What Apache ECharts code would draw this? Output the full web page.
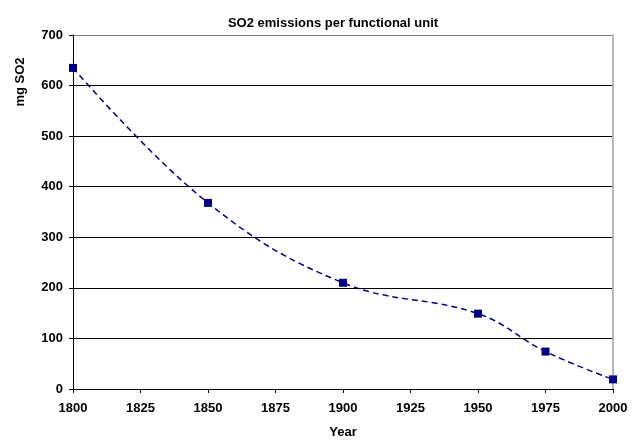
<!DOCTYPE html>
<html>
<head>
<meta charset="utf-8">
<script src="https://cdn.jsdelivr.net/npm/echarts@6/dist/echarts.min.js"></script>
<style>html,body{margin:0;padding:0;background:#fff}#c{width:637px;height:444px}</style>
</head>
<body>
<div id="c"></div>
<script>
var years = [1800, 1850, 1900, 1950, 1975, 2000];
var so2 = [635, 368, 210, 149, 74, 19];
var titleText = 'SO2 emissions per functional unit';
var xName = 'Year';
var yName = 'mg SO2';

var font = 'Liberation Sans, Arial, sans-serif';
var chart = echarts.init(document.getElementById('c'));
chart.setOption({
  animation: false,
  backgroundColor: '#fff',
  title: {
    text: titleText, left: 328, top: 12, textAlign: 'center',
    textStyle: {fontFamily: font, fontSize: 13, fontWeight: 'bold', color: '#000'}
  },
  grid: {left: 73, right: 24, top: 35, bottom: 51},
  graphic: [{
    type: 'text', x: 20, y: 82, rotation: Math.PI / 2,
    style: {text: yName, font: 'bold 13px ' + font, fill: '#000', align: 'center', verticalAlign: 'middle'}
  }],
  xAxis: {
    type: 'value', min: 1800, max: 2000, interval: 25,
    name: xName, nameLocation: 'middle', nameGap: 37,
    nameTextStyle: {fontFamily: font, fontSize: 13, fontWeight: 'bold', color: '#000'},
    axisLine: {show: true, lineStyle: {color: '#000', width: 1}},
    axisTick: {show: true, length: 4, lineStyle: {color: '#000'}},
    axisLabel: {fontFamily: font, fontSize: 13, fontWeight: 'bold', color: '#000', margin: 13,
      formatter: function (v) { return String(v); }},
    splitLine: {show: false}
  },
  yAxis: [{
    type: 'value', min: 0, max: 700, interval: 100,
    axisLine: {show: true, lineStyle: {color: '#000', width: 1}},
    axisTick: {show: true, length: 4, lineStyle: {color: '#000'}},
    axisLabel: {fontFamily: font, fontSize: 13, fontWeight: 'bold', color: '#000', margin: 10},
    splitLine: {show: true, lineStyle: {color: ['#000','#000','#000','#000','#000','#000','#000','#808080'], width: 1}}
  }, {
    type: 'value', min: 0, max: 700, interval: 100, position: 'right',
    axisLine: {show: true, lineStyle: {color: '#b8b8b8', width: 2}},
    axisTick: {show: false}, axisLabel: {show: false}, splitLine: {show: false}
  }],
  series: [{
    type: 'line',
    data: years.map(function (y, i) { return [y, so2[i]]; }),
    smooth: 0.4,
    symbol: 'rect', symbolSize: 8,
    itemStyle: {color: '#000080'},
    lineStyle: {color: '#000080', width: 1.5, type: [6, 4]}
  }]
});
</script>
</body>
</html>
